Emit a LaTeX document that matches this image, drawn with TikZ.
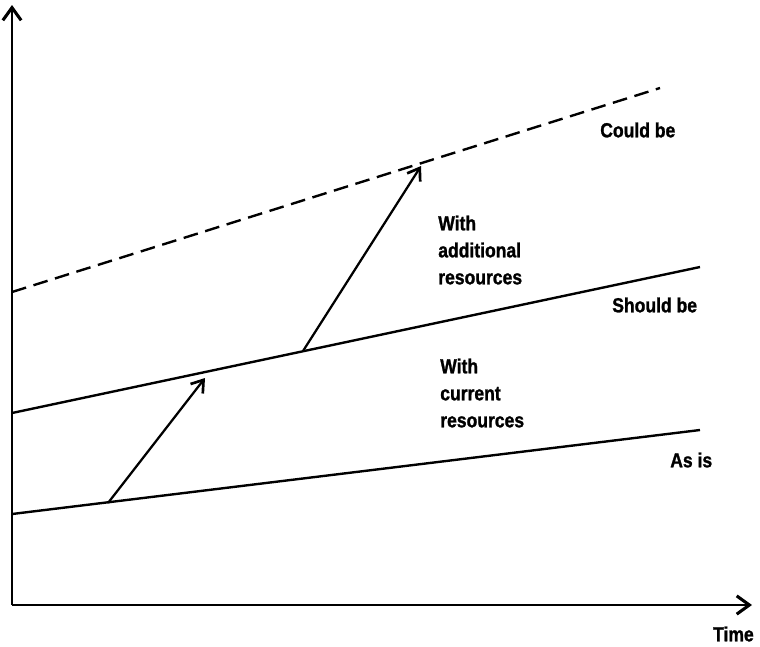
\documentclass[tikz,border=0pt]{standalone}
\usepackage{fontspec}
\setmainfont{Liberation Sans}[FakeStretch=0.86, BoldFeatures={FakeBold=1.2}]
\usetikzlibrary{arrows.meta}

\begin{document}
\begin{tikzpicture}[
            x=0.025cm, y=-0.025cm,
            axis/.style={line width=2.1pt, -{Straight Barb[length=9pt, width=13pt, line width=2.2pt]}},
            level/.style={line width=1.7pt},
            gain/.style={line width=1.6pt, -{Straight Barb[length=8pt, width=11pt, line width=1.9pt]}},
            lbl/.style={anchor=west, inner sep=0pt, align=left, font=\fontsize{14.5}{19.2}\selectfont\bfseries}
        ]
            \useasboundingbox (0,0) rectangle (760,646);

            % --- Axes ---
            \coordinate (origin) at (12,605);
            \coordinate (ytop) at (12,5);
            \coordinate (xend) at (752,605);
            \draw[axis] (origin) -- (ytop);
            \draw[axis] (origin) -- (xend);
            \node[lbl, anchor=east] (time) at (754,634) {Time};

            % --- Levels ---
            \coordinate (could0) at (12,292);
            \coordinate (could1) at (660,88);
            \coordinate (should0) at (12,413);
            \coordinate (should1) at (700,267);
            \coordinate (asis0) at (12,514);
            \coordinate (asis1) at (700,430);
            \draw[level, dash pattern=on 10.5pt off 5.5pt] (could0) -- (could1);
            \draw[level] (should0) -- (should1);
            \draw[level] (asis0) -- (asis1);

            \node[lbl] (could) at (600,130) {Could be};
            \node[lbl] (should) at (612,305) {Should be};
            \node[lbl] (asis) at (670,460) {As is};

            % --- Gains ---
            \coordinate (cur0) at (108,503);
            \coordinate (cur1) at (205,378);
            \coordinate (add0) at (303,351);
            \coordinate (add1) at (421,166);
            \draw[gain] (cur0) -- (cur1);
            \draw[gain] (add0) -- (add1);

            \node[lbl] (addres) at (438,250) {With\\additional\\resources};
            \node[lbl] (curres) at (440,393) {With\\current\\resources};

        \end{tikzpicture}
\end{document}
